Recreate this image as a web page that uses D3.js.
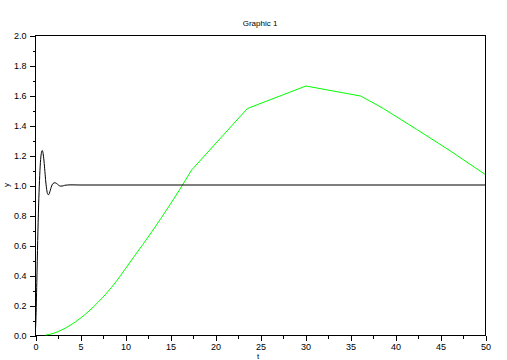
<!DOCTYPE html>
<html><head><meta charset="utf-8">
<script src="https://cdn.jsdelivr.net/npm/d3@7/dist/d3.min.js"></script>
<style>body{margin:0;background:#fff}svg{display:block}text{font-family:"Liberation Sans",Arial,sans-serif;fill:#000}</style>
</head><body>
<script>
const title = "Graphic 1";
const xLabel = "t";
const yLabel = "y";
const xTicks = [0,5,10,15,20,25,30,35,40,45,50];
const yTicks = [0,0.2,0.4,0.6,0.8,1.0,1.2,1.4,1.6,1.8,2.0];

const blackT = [0,0.1,0.2,0.3,0.4,0.5,0.6,0.7,0.8,0.9,1.0,1.1,1.2,1.3,1.4,1.5,1.6,1.7,1.8,2.0,2.2,2.4,2.6,2.8,3.0,3.3,3.6,4.0,5,50];
const blackY = [0,0.10,0.35,0.63,0.86,1.03,1.15,1.21,1.23,1.21,1.16,1.09,1.02,0.97,0.94,0.935,0.945,0.965,0.985,1.01,1.015,1.01,1.0,0.993,0.993,0.998,1.0,1.001,1.0,1.0];

// smooth rising part of the green curve
const greenRiseT = [1.2,2,3,4,5,6,7,8,9,10,11,12,13,14,15,16,17.4];
const greenRiseY = [0.0,0.01,0.035,0.068,0.11,0.16,0.218,0.282,0.355,0.438,0.522,0.605,0.69,0.778,0.869,0.962,1.10];
// piecewise-linear tail of the green curve
const greenTailT = [17.4,23.6,30.1,36.2,38.7,42.4,46,50];
const greenTailY = [1.10,1.51,1.66,1.593,1.51,1.371,1.233,1.071];

const W = 507, H = 360;
const m = {l:35, r:22, t:35, b:25};
const svg = d3.select("body").append("svg").attr("width", W).attr("height", H);

const x = d3.scaleLinear().domain([0,50]).range([m.l, W-m.r]);
const y = d3.scaleLinear().domain([0,2]).range([H-m.b, m.t]);

svg.append("rect").attr("x", x(0)+0.5).attr("y", y(2)+0.5)
  .attr("width", x(50)-x(0)).attr("height", y(0)-y(2))
  .attr("fill","none").attr("stroke","#000").attr("stroke-width",1);

const xMinor = d3.range(0, 50.01, 2.5).filter(v => v % 5 !== 0);
const yMinor = d3.range(0.1, 2, 0.2);

svg.append("g").attr("transform", `translate(0.5,${y(0)+0.5})`)
  .call(d3.axisBottom(x).tickValues(xTicks).tickFormat(d3.format("d")).tickSize(5).tickPadding(3));
svg.append("g").attr("transform", `translate(0.5,${y(0)+0.5})`)
  .call(d3.axisBottom(x).tickValues(xMinor).tickFormat("").tickSize(3));
svg.append("g").attr("transform", `translate(${x(0)+0.5},0.5)`)
  .call(d3.axisLeft(y).tickValues(yTicks).tickFormat(d3.format(".1f")).tickSize(6).tickPadding(3));
svg.append("g").attr("transform", `translate(${x(0)+0.5},0.5)`)
  .call(d3.axisLeft(y).tickValues(yMinor).tickFormat("").tickSize(3));
svg.selectAll(".domain").remove();
svg.selectAll(".tick line").attr("stroke","#000").attr("shape-rendering","crispEdges");
svg.selectAll(".tick text").attr("font-size","9px").attr("font-family","Liberation Sans, Arial, sans-serif");

svg.append("clipPath").attr("id","c").append("rect")
  .attr("x", x(0)).attr("y", y(2)).attr("width", x(50)-x(0)).attr("height", y(0)-y(2)+1);

const line = d3.line().x(d => x(d[0])).y(d => y(d[1]));
const smooth = d3.line().curve(d3.curveMonotoneX).x(d => x(d[0])).y(d => y(d[1]));
const g = svg.append("g").attr("clip-path","url(#c)");
g.append("path").datum(greenRiseT.map((t,i)=>[t,greenRiseY[i]]))
  .attr("d", smooth).attr("fill","none").attr("stroke","#00ff00").attr("stroke-width",1);
g.append("path").datum(greenTailT.map((t,i)=>[t,greenTailY[i]]))
  .attr("d", line).attr("fill","none").attr("stroke","#00ff00").attr("stroke-width",1);
g.append("path").datum(blackT.map((t,i)=>[t,blackY[i]]))
  .attr("d", smooth).attr("fill","none").attr("stroke","#000").attr("stroke-width",1);

svg.append("text").attr("x", (x(0)+x(50))/2).attr("y", 26).attr("text-anchor","middle")
  .attr("font-size","8px").text(title);
svg.append("text").attr("x", 258).attr("y", 359).attr("text-anchor","middle")
  .attr("font-size","8px").text(xLabel);
svg.append("text").attr("transform", `translate(9,${(y(0)+y(2))/2}) rotate(-90)`).attr("text-anchor","middle")
  .attr("font-size","8px").text(yLabel);
</script>
</body></html>
